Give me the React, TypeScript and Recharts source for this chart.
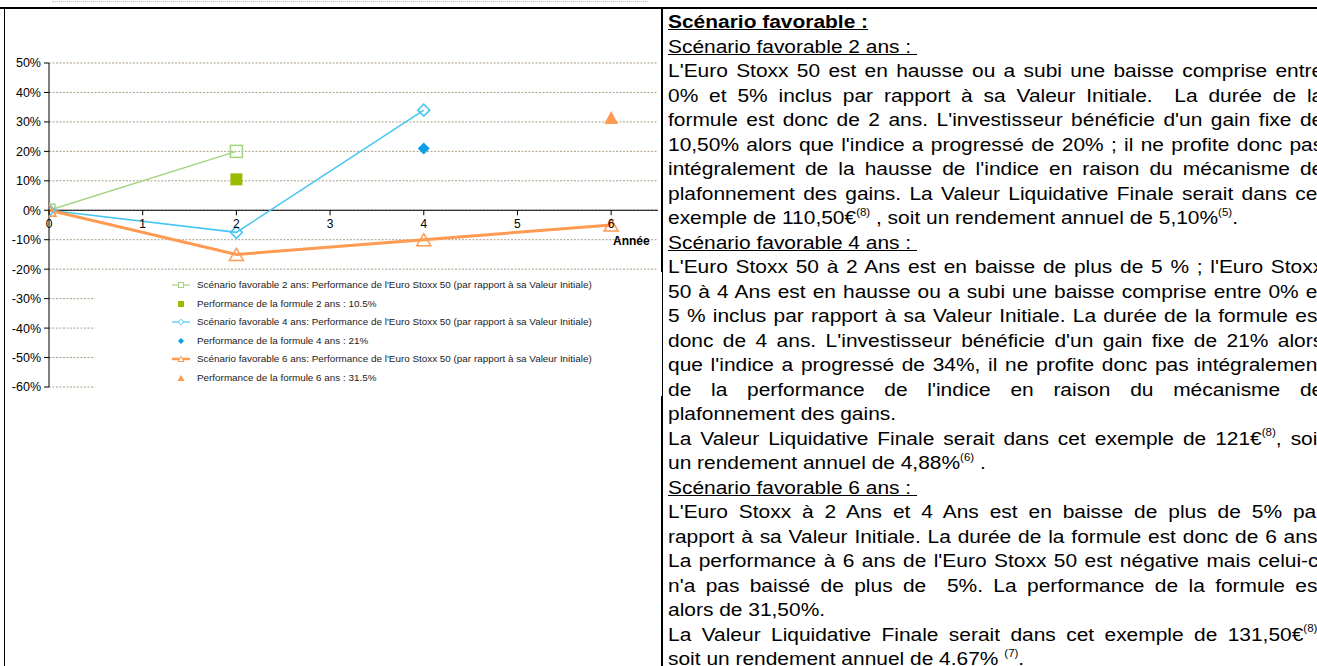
import React from "react";
import {
  ComposedChart,
  Line,
  Scatter,
  XAxis,
  YAxis,
  CartesianGrid,
  ReferenceLine,
  Legend,
} from "recharts";

// années (axe horizontal) et graduations
const YEARS = [0, 1, 2, 3, 4, 5, 6];
const Y_TICKS = [50, 40, 30, 20, 10, 0, -10, -20, -30, -40, -50, -60];

// performance de l'Euro Stoxx 50 par scénario
const SCEN2_X = [0, 2];
const SCEN2_Y = [0, 20];
const SCEN4_X = [0, 2, 4];
const SCEN4_Y = [0, -7.5, 34];
const SCEN6_X = [0, 2, 4, 6];
const SCEN6_Y = [0, -15, -10, -5];

// performance de la formule
const FORMULE_X = [2, 4, 6];
const FORMULE_Y = [10.5, 21, 31.5];

const LEGEND_LABELS = [
  "Scénario favorable 2 ans: Performance de l'Euro Stoxx 50 (par rapport à sa Valeur Initiale)",
  "Performance de la formule 2 ans : 10.5%",
  "Scénario favorable 4 ans: Performance de l'Euro Stoxx 50 (par rapport à sa Valeur Initiale)",
  "Performance de la formule 4 ans : 21%",
  "Scénario favorable 6 ans: Performance de l'Euro Stoxx 50 (par rapport à sa Valeur Initiale)",
  "Performance de la formule 6 ans : 31.5%",
];

const GREEN = "#a3d47f";
const GREEN_DARK = "#99bb00";
const BLUE = "#45c6f2";
const BLUE_DARK = "#0a9fe6";
const ORANGE = "#ff9a52";

const FONT = '"Liberation Sans", Arial, sans-serif';

const CHART_W = 662;
const CHART_H = 400;
const TOP = 63;
const BOTTOM = 387;
const Y_MAX = 50;
const Y_MIN = -60;
const Y_ZERO = TOP + ((Y_MAX - 0) / (Y_MAX - Y_MIN)) * (BOTTOM - TOP);

const pts = (xs: number[], ys: number[]) => xs.map((x, i) => ({ x, y: ys[i] }));

const OpenSquare = ({ cx, cy, s = 12 }: any) => (
  <rect x={cx - s / 2} y={cy - s / 2} width={s} height={s} fill="none" stroke={GREEN} strokeWidth={1.5} />
);
const FilledSquare = ({ cx, cy, s = 12 }: any) => (
  <rect x={cx - s / 2} y={cy - s / 2} width={s} height={s} fill={GREEN_DARK} />
);
const diamond = (cx: number, cy: number, r: number) =>
  `M${cx},${cy - r}L${cx + r},${cy}L${cx},${cy + r}L${cx - r},${cy}Z`;
const triangle = (cx: number, cy: number, w: number, h: number) =>
  `M${cx},${cy - h / 2}L${cx + w / 2},${cy + h / 2}L${cx - w / 2},${cy + h / 2}Z`;

const XTick = (props: any) => {
  const { x, payload } = props;
  return (
    <g>
      <line x1={x} x2={x} y1={Y_ZERO} y2={Y_ZERO + 5} stroke="#000" />
      <text x={x} y={Y_ZERO + 18} textAnchor="middle" fontSize={12} fill="#000" fontFamily={FONT}>
        {payload.value}
      </text>
    </g>
  );
};

const LegendIcon = ({ i }: { i: number }) => {
  const cx = 86;
  const cy = 7;
  if (i === 0)
    return (
      <g>
        <line x1={77} x2={95} y1={cy} y2={cy} stroke={GREEN} strokeWidth={1.2} />
        <rect x={cx - 2.5} y={cy - 2.5} width={5} height={5} fill="#fff" stroke={GREEN} />
      </g>
    );
  if (i === 1) return <rect x={cx - 3} y={cy - 3} width={6} height={6} fill={GREEN_DARK} />;
  if (i === 2)
    return (
      <g>
        <line x1={77} x2={95} y1={cy} y2={cy} stroke={BLUE} strokeWidth={1.2} />
        <path d={diamond(cx, cy, 2.8)} fill="#fff" stroke={BLUE} />
      </g>
    );
  if (i === 3) return <path d={diamond(cx, cy, 3)} fill={BLUE_DARK} />;
  if (i === 4)
    return (
      <g>
        <line x1={77} x2={95} y1={cy} y2={cy} stroke={ORANGE} strokeWidth={2.5} />
        <path d={triangle(cx, cy, 6, 5)} fill="#fff" stroke={ORANGE} />
      </g>
    );
  return <path d={triangle(cx, cy, 7, 6)} fill={ORANGE} />;
};

const LegendBox = () => (
  <div style={{ position: "relative", width: 567, height: 124, background: "#fff" }}>
    {LEGEND_LABELS.map((label, i) => {
      const top = 13 + i * 18.6 - 7;
      return (
        <div key={label} style={{ position: "absolute", left: 0, top, height: 14, width: 567 }}>
          <svg width={100} height={14} style={{ position: "absolute", left: 0, top: 0 }}>
            <LegendIcon i={i} />
          </svg>
          <span
            style={{
              position: "absolute",
              left: 102,
              top: 0,
              fontSize: 9.9,
              lineHeight: "13px",
              color: "#222",
              fontFamily: FONT,
              whiteSpace: "nowrap",
            }}
          >
            {label}
          </span>
        </div>
      );
    })}
  </div>
);

const Sup = ({ children }: { children: React.ReactNode }) => (
  <span style={{ fontSize: "0.55em", position: "relative", top: "-0.8em", lineHeight: 0 }}>{children}</span>
);
const J = ({ children }: { children: React.ReactNode }) => (
  <div style={{ textAlign: "justify", textAlignLast: "justify" }}>{children}</div>
);
const L = ({ children, u, b }: { children: React.ReactNode; u?: boolean; b?: boolean }) => (
  <div style={{ textAlign: "left", whiteSpace: "pre" }}>
    <span style={{ textDecoration: u ? "underline" : "none", fontWeight: b ? "bold" : "normal" }}>{children}</span>
  </div>
);

export default function App() {
  return (
    <div
      style={{
        position: "absolute",
        left: 0,
        top: 0,
        width: 1317,
        height: 666,
        overflow: "hidden",
        background: "#fff",
        fontFamily: FONT,
        color: "#000",
      }}
    >
      {/* reste du graphique précédent */}
      <div style={{ position: "absolute", left: 17, top: -10, fontSize: 11.5, lineHeight: "13px" }}>-60%</div>
      <div style={{ position: "absolute", left: 52, top: 1, width: 596, borderTop: "1px dotted #c8c0b8" }} />

      {/* bordures du tableau */}
      <div style={{ position: "absolute", left: 0, top: 7, width: 1317, height: 2, background: "#000" }} />
      <div style={{ position: "absolute", left: 4, top: 8, width: 1, height: 660, background: "#000" }} />
      <div style={{ position: "absolute", left: 661, top: 8, width: 2, height: 660, background: "#000" }} />

      <div style={{ position: "absolute", left: 0, top: 0 }}>
        <ComposedChart
          width={CHART_W}
          height={CHART_H}
          margin={{ top: TOP, right: CHART_W - 658, bottom: CHART_H - BOTTOM - 10, left: 0 }}
        >
          <CartesianGrid vertical={false} stroke="#ae9d88" strokeDasharray="2 1.5" />
          <XAxis
            type="number"
            dataKey="x"
            domain={[0, 6.5]}
            ticks={YEARS}
            interval={0}
            height={10}
            axisLine={false}
            tickLine={false}
            tick={(p: any) => <XTick key={`t${p.index}`} {...p} />}
            allowDataOverflow
          />
          <YAxis
            type="number"
            dataKey="y"
            domain={[Y_MIN, Y_MAX]}
            ticks={Y_TICKS}
            interval={0}
            width={49}
            tickSize={5}
            tickMargin={3}
            tickFormatter={(v: number) => `${v}%`}
            tick={{ fontSize: 12.5, fill: "#000", fontFamily: FONT }}
            axisLine={{ stroke: "#000" }}
            tickLine={{ stroke: "#000" }}
            allowDataOverflow
          />
          <ReferenceLine y={0} stroke="#000" strokeWidth={1} />
          <Legend
            layout="horizontal"
            verticalAlign="middle"
            align="center"
            content={() => <LegendBox />}
            wrapperStyle={{ position: "absolute", left: 95, top: 272, width: 567, height: 124, margin: 0 }}
          />
          <Line
            data={pts(SCEN2_X, SCEN2_Y)}
            dataKey="y"
            stroke={GREEN}
            strokeWidth={1.5}
            isAnimationActive={false}
            activeDot={false}
            dot={(p: any) => <OpenSquare key={`g${p.index}`} cx={p.cx} cy={p.cy} />}
          />
          <Line
            data={pts(SCEN4_X, SCEN4_Y)}
            dataKey="y"
            stroke={BLUE}
            strokeWidth={1.5}
            isAnimationActive={false}
            activeDot={false}
            dot={(p: any) => (
              <path key={`b${p.index}`} d={diamond(p.cx, p.cy, 6)} fill="none" stroke={BLUE} strokeWidth={1.5} />
            )}
          />
          <Line
            data={pts(SCEN6_X, SCEN6_Y)}
            dataKey="y"
            stroke={ORANGE}
            strokeWidth={3}
            isAnimationActive={false}
            activeDot={false}
            dot={(p: any) => (
              <path
                key={`o${p.index}`}
                d={triangle(p.cx, p.cy, 14, 12)}
                fill="none"
                stroke={ORANGE}
                strokeWidth={1.5}
              />
            )}
          />
          <Scatter
            data={pts(FORMULE_X.slice(0, 1), FORMULE_Y.slice(0, 1))}
            dataKey="y"
            isAnimationActive={false}
            shape={(p: any) => <FilledSquare cx={p.cx} cy={p.cy} />}
          />
          <Scatter
            data={pts(FORMULE_X.slice(1, 2), FORMULE_Y.slice(1, 2))}
            dataKey="y"
            isAnimationActive={false}
            shape={(p: any) => <path d={diamond(p.cx, p.cy, 6)} fill={BLUE_DARK} />}
          />
          <Scatter
            data={pts(FORMULE_X.slice(2, 3), FORMULE_Y.slice(2, 3))}
            dataKey="y"
            isAnimationActive={false}
            shape={(p: any) => <path d={triangle(p.cx, p.cy, 14, 13)} fill={ORANGE} />}
          />
        </ComposedChart>
      </div>

      <div style={{ position: "absolute", left: 613, top: 234, fontSize: 12, fontWeight: "bold", lineHeight: "14px" }}>
        Année
      </div>

      {/* texte explicatif */}
      <div
        style={{
          position: "absolute",
          left: 668,
          top: 10,
          width: 585,
          fontSize: 18.7,
          lineHeight: "24.5px",
          transform: "scaleX(1.12)",
          transformOrigin: "0 0",
        }}
      >
        <L u b>Scénario favorable :</L>
        <L u>Scénario favorable 2 ans : </L>
        <J>L'Euro Stoxx 50 est en hausse ou a subi une baisse comprise entre</J>
        <J>0% et 5% inclus par rapport à sa Valeur Initiale.&nbsp; La durée de la</J>
        <J>formule est donc de 2 ans. L'investisseur bénéficie d'un gain fixe de</J>
        <J>10,50% alors que l'indice a progressé de 20% ; il ne profite donc pas</J>
        <J>intégralement de la hausse de l'indice en raison du mécanisme de</J>
        <J>plafonnement des gains. La Valeur Liquidative Finale serait dans cet</J>
        <L>
          exemple de 110,50€<Sup>(8)</Sup> , soit un rendement annuel de 5,10%<Sup>(5)</Sup>.
        </L>
        <L u>Scénario favorable 4 ans : </L>
        <J>L'Euro Stoxx 50 à 2 Ans est en baisse de plus de 5 % ; l'Euro Stoxx</J>
        <J>50 à 4 Ans est en hausse ou a subi une baisse comprise entre 0% et</J>
        <J>5 % inclus par rapport à sa Valeur Initiale. La durée de la formule est</J>
        <J>donc de 4 ans. L'investisseur bénéficie d'un gain fixe de 21% alors</J>
        <J>que l'indice a progressé de 34%, il ne profite donc pas intégralement</J>
        <J>de la performance de l'indice en raison du mécanisme de</J>
        <L>plafonnement des gains.</L>
        <J>
          La Valeur Liquidative Finale serait dans cet exemple de 121€<Sup>(8)</Sup>, soit
        </J>
        <L>
          un rendement annuel de 4,88%<Sup>(6)</Sup> .
        </L>
        <L u>Scénario favorable 6 ans : </L>
        <J>L'Euro Stoxx à 2 Ans et 4 Ans est en baisse de plus de 5% par</J>
        <J>rapport à sa Valeur Initiale. La durée de la formule est donc de 6 ans.</J>
        <J>La performance à 6 ans de l'Euro Stoxx 50 est négative mais celui-ci</J>
        <J>n'a pas baissé de plus de&nbsp; 5%. La performance de la formule est</J>
        <L>alors de 31,50%.</L>
        <J>
          La Valeur Liquidative Finale serait dans cet exemple de 131,50€<Sup>(8)</Sup>,
        </J>
        <L>
          soit un rendement annuel de 4.67% <Sup>(7)</Sup>.
        </L>
      </div>
    </div>
  );
}
